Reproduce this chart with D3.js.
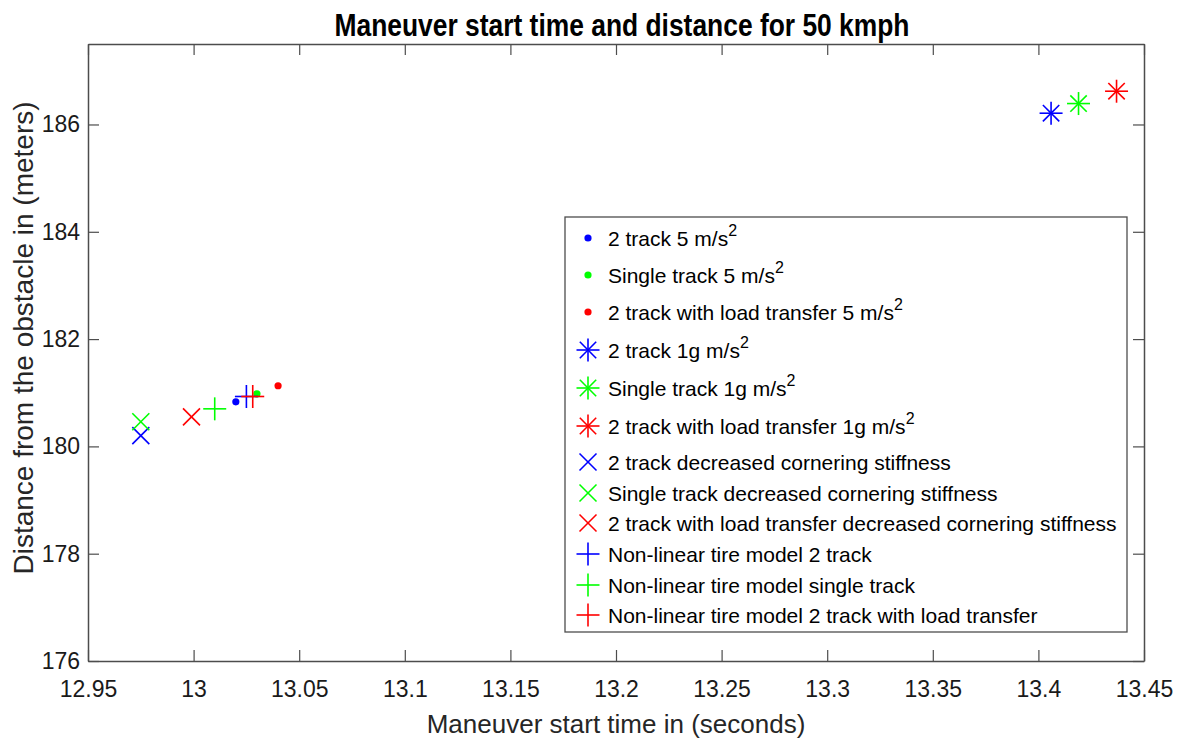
<!DOCTYPE html>
<html>
<head>
<meta charset="utf-8">
<script src="https://cdn.jsdelivr.net/npm/d3@7/dist/d3.min.js"></script>
<style>
  html, body { margin: 0; padding: 0; background: #fff; }
  svg { display: block; font-family: "Liberation Sans", Arial, sans-serif; }
</style>
</head>
<body>
<svg id="chart" width="1192" height="740"></svg>
<script>
// Series definitions: label parts, marker shape, colour
const seriesNames = [
  ["2 track 5 m/s", "2"],
  ["Single track 5 m/s", "2"],
  ["2 track with load transfer 5 m/s", "2"],
  ["2 track 1g m/s", "2"],
  ["Single track 1g m/s", "2"],
  ["2 track with load transfer 1g m/s", "2"],
  ["2 track decreased cornering stiffness", ""],
  ["Single track decreased cornering stiffness", ""],
  ["2 track with load transfer decreased cornering stiffness", ""],
  ["Non-linear tire model 2 track", ""],
  ["Non-linear tire model single track", ""],
  ["Non-linear tire model 2 track with load transfer", ""]
];
const seriesMarkers = ["dot", "dot", "dot", "star", "star", "star", "x", "x", "x", "plus", "plus", "plus"];
const seriesColors = ["#0000ff", "#00ff00", "#ff0000", "#0000ff", "#00ff00", "#ff0000",
                      "#0000ff", "#00ff00", "#ff0000", "#0000ff", "#00ff00", "#ff0000"];

// Maneuver start time (s) and distance (m) for each series
const startTimes = [13.020, 13.030, 13.040, 13.406, 13.419, 13.437, 12.975, 12.975, 12.999, 13.025, 13.010, 13.028];
const distances  = [180.83, 180.98, 181.13, 186.21, 186.39, 186.62, 180.20, 180.46, 180.55, 180.93, 180.70, 180.93];

const xTicks = [12.95, 13, 13.05, 13.1, 13.15, 13.2, 13.25, 13.3, 13.35, 13.4, 13.45];
const yTicks = [176, 178, 180, 182, 184, 186];
const xDomain = [12.95, 13.45];
const yDomain = [176, 187.5];

const svg = d3.select("#chart");
const margin = { left: 88, right: 1144, top: 44, bottom: 661 };
const axisColor = "#4d4d4d";
const textColor = "#1a1a1a";

const x = d3.scaleLinear().domain(xDomain).range([margin.left, margin.right]);
const y = d3.scaleLinear().domain(yDomain).range([margin.bottom, margin.top]);

const fmt = d => String(+d.toFixed(2));
const tickLen = 11;

// Bottom and left axes with inward ticks
const xAxis = svg.append("g").attr("transform", `translate(0,${margin.bottom})`)
  .call(d3.axisBottom(x).tickValues(xTicks).tickFormat(fmt).tickSizeInner(-tickLen).tickSizeOuter(0));
const yAxis = svg.append("g").attr("transform", `translate(${margin.left},0)`)
  .call(d3.axisLeft(y).tickValues(yTicks).tickFormat(fmt).tickSizeInner(-tickLen).tickSizeOuter(0).tickPadding(8));
// Mirror axes (box on) on top and right, no labels
const xTop = svg.append("g").attr("transform", `translate(0,${margin.top})`)
  .call(d3.axisTop(x).tickValues(xTicks).tickFormat("").tickSizeInner(-tickLen).tickSizeOuter(0));
const yRight = svg.append("g").attr("transform", `translate(${margin.right},0)`)
  .call(d3.axisRight(y).tickValues(yTicks).tickFormat("").tickSizeInner(-tickLen).tickSizeOuter(0));

[xAxis, yAxis, xTop, yRight].forEach(g => {
  g.select(".domain").attr("stroke", axisColor).attr("stroke-width", 1.5);
  g.selectAll(".tick line").attr("stroke", axisColor).attr("stroke-width", 1.2);
  g.selectAll(".tick text").attr("fill", textColor).style("font-size", "23px")
    .style("font-family", "'Liberation Sans', Arial, sans-serif");
});
xAxis.selectAll(".tick text").attr("y", 36).attr("dy", 0);

// Marker drawing
function drawMarker(g, type, color, cx, cy) {
  const s = g.append("g").attr("transform", `translate(${cx},${cy})`)
    .attr("stroke", color).attr("stroke-width", 1.6).attr("fill", "none");
  if (type === "dot") {
    s.append("circle").attr("r", 3.6).attr("fill", color).attr("stroke", "none");
  } else if (type === "plus") {
    const r = 11.5;
    s.append("line").attr("x1", -r).attr("x2", r).attr("y1", 0).attr("y2", 0);
    s.append("line").attr("x1", 0).attr("x2", 0).attr("y1", -r).attr("y2", r);
  } else if (type === "x") {
    const r = 8.5;
    s.append("line").attr("x1", -r).attr("x2", r).attr("y1", -r).attr("y2", r);
    s.append("line").attr("x1", -r).attr("x2", r).attr("y1", r).attr("y2", -r);
  } else if (type === "star") {
    const r = 11.5, d = 8.2;
    s.append("line").attr("x1", -r).attr("x2", r).attr("y1", 0).attr("y2", 0);
    s.append("line").attr("x1", 0).attr("x2", 0).attr("y1", -r).attr("y2", r);
    s.append("line").attr("x1", -d).attr("x2", d).attr("y1", -d).attr("y2", d);
    s.append("line").attr("x1", -d).attr("x2", d).attr("y1", d).attr("y2", -d);
  }
}

// Data points
const pts = svg.append("g");
startTimes.forEach((t, i) => {
  drawMarker(pts, seriesMarkers[i], seriesColors[i], x(t), y(distances[i]));
});

// Title and axis labels
svg.append("text").attr("x", 622).attr("y", 36)
  .attr("text-anchor", "middle").attr("fill", "#000")
  .attr("textLength", 575).attr("lengthAdjust", "spacingAndGlyphs")
  .style("font-size", "31px").style("font-weight", "bold")
  .text("Maneuver start time and distance for 50 kmph");
svg.append("text").attr("x", 616).attr("y", 733)
  .attr("text-anchor", "middle").attr("fill", "#262626").style("font-size", "26px")
  .text("Maneuver start time in (seconds)");
svg.append("text").attr("transform", `translate(33,338) rotate(-90)`)
  .attr("text-anchor", "middle").attr("fill", "#262626").style("font-size", "28px")
  .text("Distance from the obstacle in (meters)");

// Legend
const legend = svg.append("g");
legend.append("rect").attr("x", 565).attr("y", 217).attr("width", 562).attr("height", 415)
  .attr("fill", "#fff").attr("stroke", axisColor).attr("stroke-width", 1.3);
const rowY = [238, 275, 312, 350, 388, 426, 462, 493, 523, 554, 585, 615];
seriesNames.forEach((nm, i) => {
  drawMarker(legend, seriesMarkers[i], seriesColors[i], 588, rowY[i]);
  const t = legend.append("text").attr("x", 608).attr("y", rowY[i] + 7.5)
    .attr("fill", "#000").style("font-size", "21px");
  t.append("tspan").text(nm[0]);
  if (nm[1]) t.append("tspan").attr("dy", -10).style("font-size", "16px").text(nm[1]);
});
</script>
</body>
</html>
